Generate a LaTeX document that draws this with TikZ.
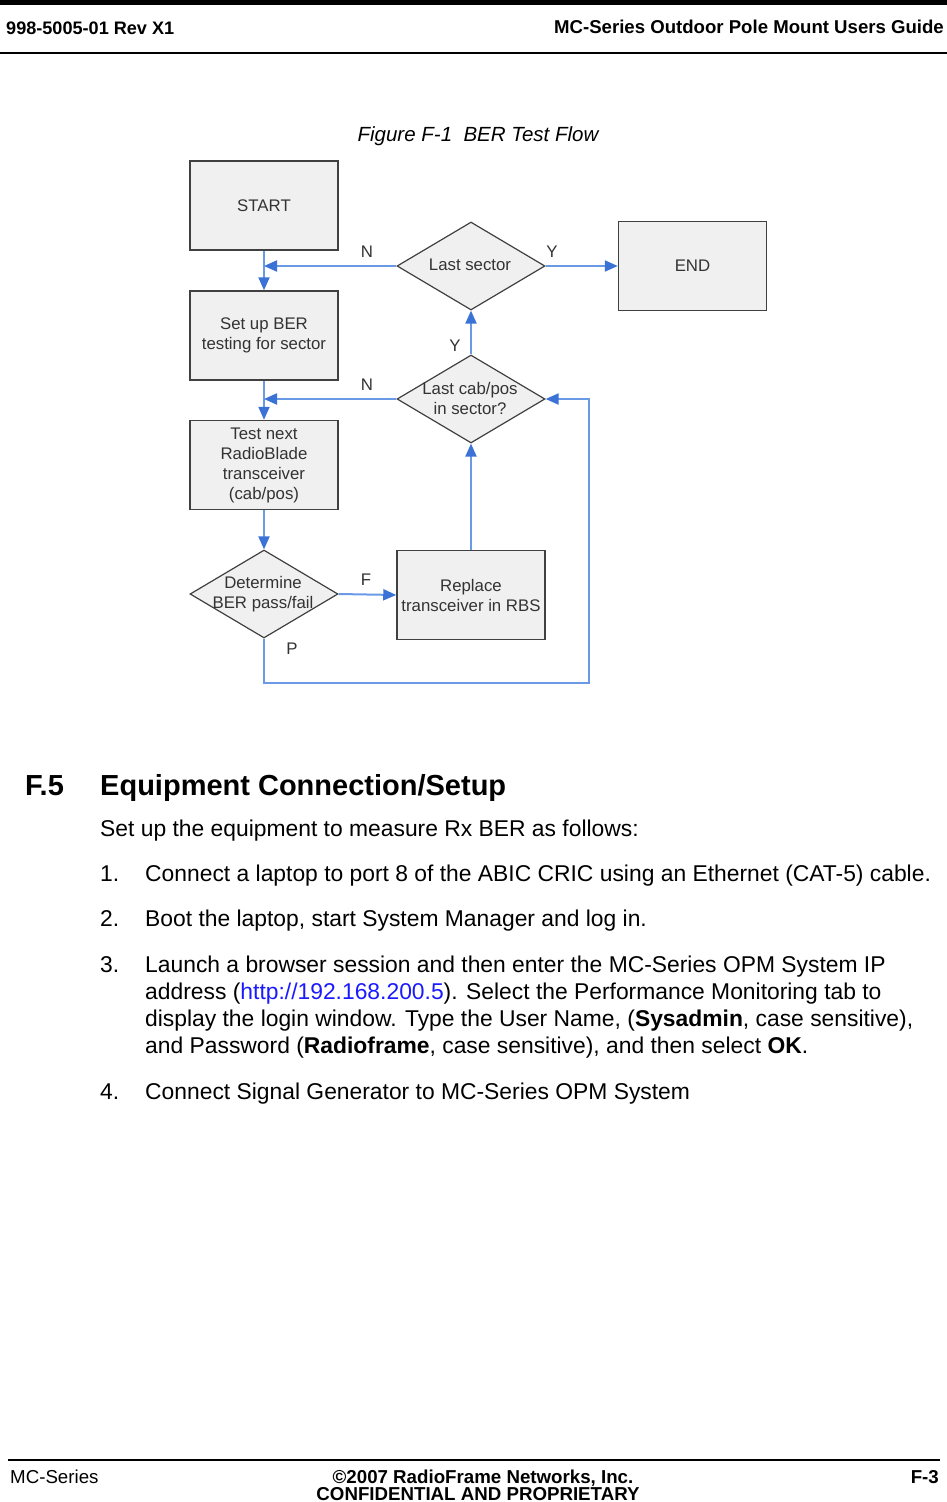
\documentclass[tikz,border=0pt]{standalone}
\usepackage{fontspec}
\setmainfont{Liberation Sans}
\usetikzlibrary{shapes.geometric,arrows.meta}
\definecolor{boxfill}{HTML}{F0F0F0}
\definecolor{boxborder}{HTML}{404040}
\definecolor{txt}{HTML}{333333}
\definecolor{lineblue}{HTML}{6A9AE6}
\definecolor{tipblue}{HTML}{3A72D6}
\definecolor{linkblue}{HTML}{1A1AFF}
\tikzset{
  fbox/.style={draw=boxborder, fill=boxfill, line width=1.5pt, minimum width=148pt, minimum height=89pt, inner sep=0pt, font=\fontsize{16.8}{20}\selectfont, text=txt, align=center},
  fdia/.style={diamond, draw=boxborder, fill=boxfill, line width=1.2pt, minimum width=148pt, minimum height=88pt, inner sep=0pt},
  dtext/.style={font=\fontsize{16.8}{20}\selectfont, text=txt, align=center, inner sep=0pt},
  conn/.style={draw=lineblue, line width=2pt},
  arr/.style={conn, -{Triangle[length=13pt,width=11pt,color=tipblue]}},
  lbl/.style={font=\fontsize{16.8}{20}\selectfont, text=txt, inner sep=0pt},
  body/.style={anchor=base west, inner sep=0pt, font=\fontsize{22.85}{27}\selectfont},
  hdr/.style={inner sep=0pt, font=\fontsize{18.6}{20}\selectfont\bfseries},
  ftr/.style={inner sep=0pt, font=\fontsize{18.7}{20}\selectfont}
}
\begin{document}
\begin{tikzpicture}[x=1pt,y=-1pt]
\useasboundingbox (0,0) rectangle (947,1502);
\fill[white] (0,0) rectangle (947,1502);
% header
\fill[black] (0,0) rectangle (947,5);
\draw[line width=1.3pt] (0,53) -- (947,53);
\node[hdr, anchor=base west, font=\fontsize{18.1}{20}\selectfont\bfseries] (h1) at (6,34) {998-5005-01 Rev X1};
\node[hdr, anchor=base east] (h2) at (944,33) {MC-Series Outdoor Pole Mount Users Guide};
% caption
\node[inner sep=0pt, anchor=base, font=\fontsize{20.5}{24}\selectfont\itshape] (cap) at (478,141) {Figure F-1\ \ BER Test Flow};
% flowchart
\node[fbox] (start) at (264,205.5) {START};
\node[fbox] (setup) at (264,335.5) {Set up BER\\testing for sector};
\node[fbox] (test) at (264,465) {Test next\\RadioBlade\\transceiver\\(cab/pos)};
\node[fdia] (det) at (264,594) {};
\node[dtext] (dett) at (263,594) {Determine\\BER pass/fail};
\node[fbox] (repl) at (471,595) {Replace\\transceiver in RBS};
\node[fdia] (lc) at (471,399) {};
\node[dtext] (lct) at (470,398) {Last cab/pos\\in sector?};
\node[fdia] (ls) at (471,266) {};
\node[dtext] (lst) at (470,265) {Last sector};
\node[fbox] (end) at (692.5,266) {END};
\coordinate (loopc) at (589,683);
% connectors
\draw[arr] (start.south) -- (setup.north);
\draw[arr] (ls.west) -- (start.south |- ls.west);
\draw[arr] (setup.south) -- (test.north);
\draw[arr] (lc.west) -- (setup.south |- lc.west);
\draw[arr] (test.south) -- (det.north);
\draw[arr] (det.east) -- (repl.west);
\draw[arr] (repl.north) -- (lc.south);
\draw[arr] (lc.north) -- (ls.south);
\draw[arr] (ls.east) -- (end.west);
\draw[arr] (det.south) |- (loopc) |- (lc.east);
% labels
\node[lbl] (n1) at (367,252) {N};
\node[lbl] (y1) at (552,252) {Y};
\node[lbl] (y2) at (455,346) {Y};
\node[lbl] (n2) at (367,385) {N};
\node[lbl] (f1) at (366,580) {F};
\node[lbl] (p1) at (292,649) {P};
% section
\node[inner sep=0pt, anchor=base west, font=\fontsize{29}{34}\selectfont\bfseries] (sn) at (25,795) {F.5};
\node[inner sep=0pt, anchor=base west, font=\fontsize{29}{34}\selectfont\bfseries] (st) at (100,795) {Equipment Connection/Setup};
\node[body] (b0) at (100,836) {Set up the equipment to measure Rx BER as follows:};
\node[body] (i1) at (100,881) {1.};
\node[body] (t1) at (145,881) {Connect a laptop to port 8 of the ABIC CRIC using an Ethernet (CAT-5) cable.};
\node[body] (i2) at (100,926) {2.};
\node[body] (t2) at (145,926) {Boot the laptop, start System Manager and log in.};
\node[body] (i3) at (100,972) {3.};
\node[body] (t3a) at (145,972) {Launch a browser session and then enter the MC-Series OPM System IP};
\node[body] (t3b) at (145,999) {address (\textcolor{linkblue}{http://192.168.200.5}). Select the Performance Monitoring tab to};
\node[body] (t3c) at (145,1026) {display the login window. Type the User Name, (\textbf{Sysadmin}, case sensitive),};
\node[body] (t3d) at (145,1053) {and Password (\textbf{Radioframe}, case sensitive), and then select \textbf{OK}.};
\node[body] (i4) at (100,1099) {4.};
\node[body] (t4) at (145,1099) {Connect Signal Generator to MC-Series OPM System};
% footer
\draw[line width=1.2pt] (8,1460) -- (940,1460);
\node[ftr, anchor=base west] (f1l) at (10,1483) {MC-Series};
\node[ftr, anchor=base, font=\fontsize{18.7}{20}\selectfont\bfseries] (f1c) at (483,1483) {©2007 RadioFrame Networks, Inc.};
\node[ftr, anchor=base, font=\fontsize{18.7}{20}\selectfont\bfseries] (f2c) at (478,1500) {CONFIDENTIAL AND PROPRIETARY};
\node[ftr, anchor=base east, font=\fontsize{18.7}{20}\selectfont\bfseries] (f1r) at (939,1483) {F-3};
\end{tikzpicture}
\end{document}
